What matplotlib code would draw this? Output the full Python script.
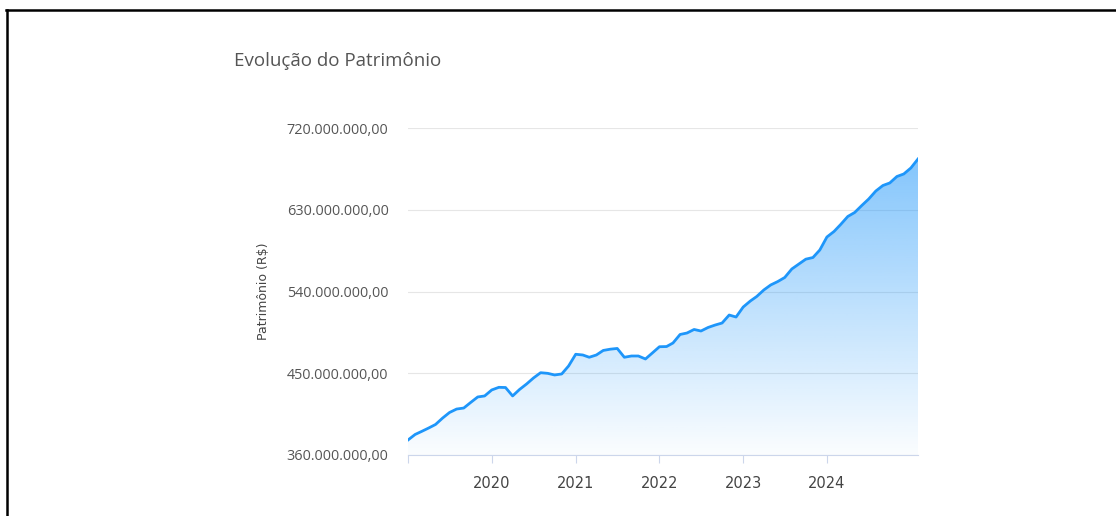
import matplotlib
matplotlib.use("Agg")
import matplotlib.pyplot as plt
import matplotlib.dates as mdates
from matplotlib.lines import Line2D
import numpy as np
import pandas as pd

# monthly net worth, millions of R$
dates = pd.date_range("2019-01-01", periods=74, freq="MS")
patrimonio_mi = [
    376.5, 382.6, 385.9, 389.7, 393.6, 400.7, 406.8, 410.6, 411.7, 417.8, 423.9, 425.0,
    431.6, 434.5, 434.3, 425.0, 432.1, 438.2, 444.8, 450.6, 449.9, 448.1, 449.2, 458.0,
    470.9, 470.1, 467.6, 470.1, 475.1, 476.5, 477.3, 467.6, 469.0, 469.0, 465.7, 472.3,
    479.2, 479.4, 483.3, 492.7, 494.3, 498.2, 496.5, 500.4, 503.1, 505.3, 514.1, 511.9,
    522.9, 529.5, 534.5, 541.7, 547.2, 551.0, 555.4, 564.8, 570.3, 575.6, 577.4, 585.7,
    600.0, 606.1, 613.8, 622.6, 627.0, 634.7, 641.8, 650.6, 656.7, 659.5, 666.6, 669.4,
    676.0, 685.9,
]
yticks = [360e6, 450e6, 540e6, 630e6, 720e6]
year_ticks = pd.to_datetime(["2019-01-01", "2020-01-01", "2021-01-01", "2022-01-01",
                             "2023-01-01", "2024-01-01"])
year_labels = ["", "2020", "2021", "2022", "2023", "2024"]

values = np.array(patrimonio_mi) * 1e6
line_color = "#1e96fa"


def brl(v, pos=None):
    s = f"{v:,.2f}"
    return s.replace(",", "X").replace(".", ",").replace("X", ".")


fig = plt.figure(figsize=(11.16, 5.16), dpi=100)
ax = fig.add_axes([408 / 1116, 1 - 455 / 516, 510 / 1116, 327 / 516])

x = mdates.date2num(dates)
ax.plot(x, values, color=line_color, lw=2.0, zorder=4, solid_joinstyle="round")
fill = ax.fill_between(x, values, 360e6, facecolor="none", edgecolor="none")

# vertical gradient for the area
grad = np.linspace(0, 1, 256).reshape(-1, 1)
rgba = np.zeros((256, 1, 4))
rgba[..., 0] = 30 / 255
rgba[..., 1] = 150 / 255
rgba[..., 2] = 250 / 255
rgba[..., 3] = 0.02 + 0.58 * grad
img = ax.imshow(rgba, aspect="auto", origin="lower",
                extent=[x[0], x[-1], 360e6, 720e6], zorder=2)
img.set_clip_path(fill.get_paths()[0], transform=ax.transData)

ax.set_xlim(x[0], x[-1])
ax.set_ylim(360e6, 720e6)

ax.set_yticks(yticks)
ax.yaxis.set_major_formatter(plt.FuncFormatter(brl))
ax.set_xticks(mdates.date2num(year_ticks))
ax.set_xticklabels(year_labels)

ax.grid(axis="y", color="#e6e6e6", lw=0.8, zorder=0)
ax.set_axisbelow(True)
for s in ["top", "right", "left"]:
    ax.spines[s].set_visible(False)
ax.spines["bottom"].set_color("#ccd6eb")
ax.spines["bottom"].set_linewidth(0.8)
ax.spines["bottom"].set_zorder(5)

ax.tick_params(axis="y", length=0, pad=14, labelsize=10.4, labelcolor="#555555")
ax.tick_params(axis="x", length=6, width=0.8, color="#ccd6eb", pad=9,
               labelsize=10.5, labelcolor="#444444")
for t in ax.get_yticklabels():
    t.set_fontfamily("Open Sans")

ax.set_ylabel("Patrimônio (R$)", fontsize=9, color="#444444", labelpad=12)

fig.text(234 / 1116, 1 - 61 / 516, "Evolução do Patrimônio", fontsize=13.5,
         color="#555555", family="Open Sans", va="center", ha="left")

# frame of the screenshot
fig.add_artist(Line2D([6 / 1116, 1], [1 - 10 / 516, 1 - 10 / 516], color="black", lw=1.8,
                      transform=fig.transFigure))
fig.add_artist(Line2D([7 / 1116, 7 / 1116], [0, 1 - 10 / 516], color="black", lw=1.8,
                      transform=fig.transFigure))

fig.savefig("out.png", dpi=100)
